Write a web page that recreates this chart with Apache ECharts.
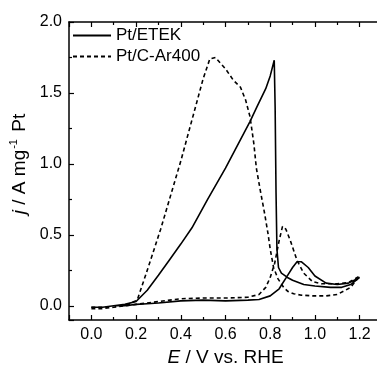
<!DOCTYPE html>
<html>
<head>
<meta charset="utf-8">
<script src="https://cdn.jsdelivr.net/npm/echarts@6/dist/echarts.min.js"></script>
<style>
  html, body { margin: 0; padding: 0; background: #fff; }
  #chart { width: 377px; height: 367px; }
</style>
</head>
<body>
<div id="chart"></div>
<script>
// Pt/ETEK: forward scan then backward scan (E in V vs RHE, j in A/mg Pt)
var etekE = [0.00, 0.05, 0.10, 0.15, 0.20, 0.25, 0.30, 0.40, 0.50, 0.60, 0.70, 0.75, 0.80, 0.84, 0.88, 0.90, 0.92, 0.94, 0.97, 1.00, 1.05, 1.10, 1.15, 1.20,
             1.16, 1.12, 1.07, 1.00, 0.95, 0.90, 0.877, 0.85, 0.837, 0.83, 0.826, 0.822, 0.818, 0.80, 0.78, 0.74, 0.71, 0.65, 0.60, 0.52, 0.45, 0.40, 0.35, 0.30, 0.25, 0.20, 0.15, 0.10, 0.05, 0.00];
var etekJ = [-0.01, -0.01, 0.00, 0.00, 0.01, 0.015, 0.02, 0.035, 0.04, 0.035, 0.04, 0.045, 0.07, 0.12, 0.22, 0.27, 0.31, 0.31, 0.27, 0.21, 0.16, 0.15, 0.16, 0.20,
             0.15, 0.13, 0.13, 0.14, 0.15, 0.18, 0.20, 0.23, 0.27, 0.40, 0.80, 1.40, 1.73, 1.62, 1.53, 1.40, 1.30, 1.12, 0.97, 0.75, 0.55, 0.435, 0.325, 0.215, 0.11, 0.03, 0.01, 0.00, -0.01, -0.01];

// Pt/C-Ar400
var ar400E = [0.00, 0.05, 0.10, 0.15, 0.20, 0.25, 0.30, 0.40, 0.50, 0.60, 0.70, 0.75, 0.78, 0.80, 0.82, 0.84, 0.855, 0.87, 0.89, 0.92, 0.95, 0.99, 1.03, 1.10, 1.15, 1.20,
              1.16, 1.10, 1.05, 0.99, 0.94, 0.905, 0.88, 0.86, 0.835, 0.815, 0.80, 0.79, 0.775, 0.756, 0.738, 0.727, 0.71, 0.69, 0.667, 0.635, 0.60, 0.555, 0.53, 0.50, 0.457, 0.40, 0.34, 0.31, 0.25, 0.205, 0.15, 0.10, 0.05, 0.00];
var ar400J = [-0.02, -0.02, -0.01, 0.00, 0.01, 0.02, 0.03, 0.05, 0.055, 0.055, 0.06, 0.08, 0.13, 0.20, 0.30, 0.46, 0.56, 0.54, 0.46, 0.32, 0.23, 0.17, 0.155, 0.155, 0.165, 0.21,
              0.13, 0.08, 0.07, 0.07, 0.075, 0.085, 0.10, 0.13, 0.19, 0.27, 0.40, 0.51, 0.65, 0.81, 0.97, 1.14, 1.33, 1.45, 1.54, 1.59, 1.67, 1.75, 1.74, 1.60, 1.35, 1.02, 0.70, 0.54, 0.25, 0.04, 0.00, -0.01, -0.01, -0.01];

var seriesNames = ['Pt/ETEK', 'Pt/C-Ar400'];

function pairs(xs, ys) {
  return xs.map(function (x, i) { return [x, ys[i]]; });
}

var font = 'Liberation Sans, Arial, sans-serif';
var axisCommon = {
  axisLine: { show: true, onZero: false, lineStyle: { color: '#000', width: 1.5 } },
  axisTick: { show: true, inside: true, length: 5, lineStyle: { color: '#000', width: 1.2 } },
  minorTick: { show: true, splitNumber: 2, length: 3, lineStyle: { color: '#000', width: 1.2 } },
  splitLine: { show: false }
};

var chart = echarts.init(document.getElementById('chart'));
var option = {
  animation: false,
  backgroundColor: '#fff',
  grid: { left: 69, top: 22, right: -5, bottom: 47, outerBoundsMode: 'none' },
  legend: {
    orient: 'vertical',
    left: 72,
    top: 27,
    padding: 0,
    itemWidth: 38,
    itemHeight: 16,
    itemGap: 4,
    itemStyle: { opacity: 0 },
    textStyle: { fontFamily: font, fontSize: 17, color: '#000' },
    data: seriesNames
  },
  xAxis: [
    Object.assign({}, axisCommon, {
      type: 'value', position: 'bottom', min: -0.1, max: 1.3,
      minInterval: 0.2, maxInterval: 0.2,
      axisLabel: { showMinLabel: false, showMaxLabel: false, margin: 7, fontFamily: font, fontSize: 16, color: '#000',
        formatter: function (v) { return v.toFixed(1); } },
      name: '{i|E} / V vs. RHE', nameLocation: 'middle', nameGap: 22,
      nameTextStyle: { fontFamily: font, fontSize: 19, color: '#000',
        rich: { i: { fontFamily: font, fontSize: 19, fontStyle: 'italic', color: '#000' } } }
    }),
    Object.assign({}, axisCommon, {
      type: 'value', position: 'top', min: -0.1, max: 1.3,
      minInterval: 0.2, maxInterval: 0.2,
      axisLabel: { show: false }
    })
  ],
  yAxis: [
    Object.assign({}, axisCommon, {
      type: 'value', position: 'left', min: -0.1, max: 2.0,
      minInterval: 0.5, maxInterval: 0.5,
      axisLabel: { showMinLabel: false, margin: 7, fontFamily: font, fontSize: 16, color: '#000',
        formatter: function (v) { return v.toFixed(1); } },
      name: '{i|j} / A mg{s|-1} Pt', nameLocation: 'middle', nameRotate: 90, nameGap: 36,
      nameTextStyle: { fontFamily: font, fontSize: 19, color: '#000', padding: [0, 0, 0, 14],
        rich: {
          i: { fontFamily: font, fontSize: 19, fontStyle: 'italic', color: '#000' },
          s: { fontFamily: font, fontSize: 11, color: '#000', padding: [0, 2, 10, 1] }
        } }
    })
  ],
  series: [
    {
      name: seriesNames[0], type: 'line',
      symbol: 'none', smooth: false,
      lineStyle: { color: '#000', width: 1.6, type: 'solid' },
      itemStyle: { color: '#000' },
      data: pairs(etekE, etekJ)
    },
    {
      name: seriesNames[1], type: 'line',
      symbol: 'none', smooth: false,
      lineStyle: { color: '#000', width: 1.6, type: [4, 3] },
      itemStyle: { color: '#000' },
      data: pairs(ar400E, ar400J)
    }
  ]
};
chart.setOption(option);
</script>
</body>
</html>
